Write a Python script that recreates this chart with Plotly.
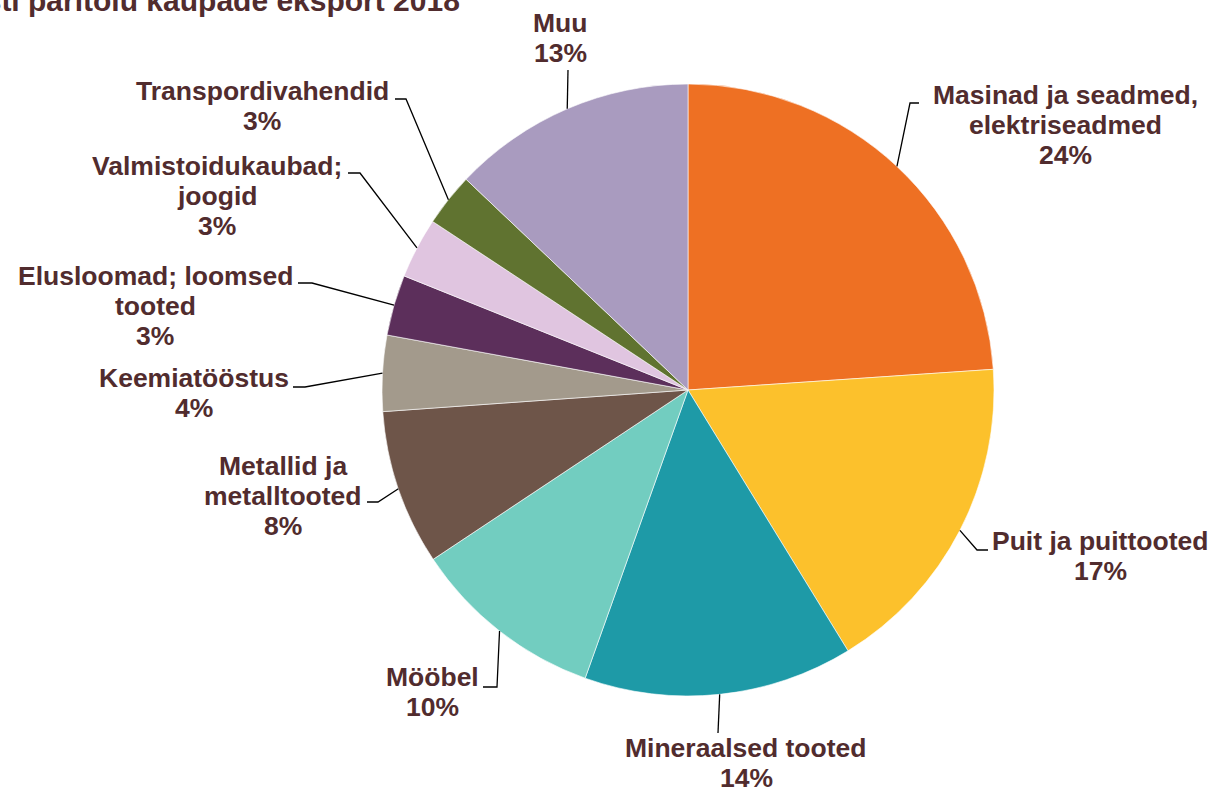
import plotly.graph_objects as go
import numpy as np

# data (shares, %)
labels = ['Masinad ja seadmed, elektriseadmed', 'Puit ja puittooted', 'Mineraalsed tooted',
          'Mööbel', 'Metallid ja metalltooted', 'Keemiatööstus', 'Elusloomad; loomsed tooted',
          'Valmistoidukaubad; joogid', 'Transpordivahendid', 'Muu']
label_lines = [['Masinad ja seadmed,', 'elektriseadmed'], ['Puit ja puittooted'], ['Mineraalsed tooted'],
               ['Mööbel'], ['Metallid ja', 'metalltooted'], ['Keemiatööstus'], ['Elusloomad; loomsed', 'tooted'],
               ['Valmistoidukaubad;', 'joogid'], ['Transpordivahendid'], ['Muu']]
values = [23.9, 17.3, 14.2, 10.2, 8.2, 4.0, 3.2, 3.2, 2.8, 12.9]
colors = ['#EE7023', '#FCC12C', '#1E9AA7', '#72CDC0', '#6E5549',
          '#A39A8C', '#5C2F5B', '#E0C5E0', '#607330', '#A99BBF']
title = 'Eesti päritolu kaupade eksport 2018'

W, H = 1214, 788
cx, cy, r = 688, 390, 306
txt_col = '#512C2E'
fsize = 26.5
line_h = 30

# label placement (px): centre x, middle y of first line; leader elbow points
label_pos = [(1065, 95), (1100, 541), (746, 748), (432, 677), (283, 466),
             (194, 378), (155, 276), (217, 166), (262, 91), (560, 23)]
elbows = [[(910, 103), (919, 103)], [(977, 550), (988, 550)], [(718, 733)],
          [(497, 687), (483, 687)], [(378, 502), (367, 502)], [(305, 387), (293, 387)],
          [(312, 283), (298, 283)], [(360, 173), (348, 173)], [(406, 99), (395, 99)],
          [(568, 70)]]


def px(x):
    return x / W


def py(y):
    return 1 - y / H


fig = go.Figure(go.Pie(
    labels=labels, values=values, sort=False, direction='clockwise', rotation=0,
    marker=dict(colors=colors, line=dict(color='white', width=0.6)),
    textinfo='none', hoverinfo='label+percent', showlegend=False,
    domain=dict(x=[px(cx - r), px(cx + r)], y=[py(cy + r), py(cy - r)]),
))

total = sum(values)
frac = np.cumsum([0] + values) / total
annotations = []
shapes = []
for i, lines in enumerate(label_lines):
    mid = (frac[i] + frac[i + 1]) / 2 * 2 * np.pi
    ex, ey = cx + r * np.sin(mid), cy - r * np.cos(mid)
    pts = [(ex, ey)] + elbows[i]
    path = 'M ' + ' L '.join(f'{px(a):.5f},{py(b):.5f}' for a, b in pts)
    shapes.append(dict(type='path', path=path, xref='paper', yref='paper',
                       line=dict(color='black', width=1.3)))
    pct = f'{round(values[i] / total * 100)}%'
    lx, ly = label_pos[i]
    for j, t in enumerate(lines + [pct]):
        annotations.append(dict(text='<b>' + t + '</b>', x=px(lx), y=py(ly + j * line_h),
                                xref='paper', yref='paper',
                                xanchor='center', yanchor='middle', showarrow=False,
                                font=dict(family='Liberation Sans, Arial', size=fsize, color=txt_col)))

# title, partly cut off at the top-left as in the original
annotations.append(dict(text='<b>' + title + '</b>', x=px(462), y=py(0), xref='paper', yref='paper',
                        xanchor='right', yanchor='middle', showarrow=False,
                        font=dict(family='Liberation Sans, Arial', size=30, color=txt_col)))

fig.update_layout(width=W, height=H, margin=dict(l=0, r=0, t=0, b=0),
                  paper_bgcolor='white', plot_bgcolor='white',
                  annotations=annotations, shapes=shapes)

fig.write_html('out.html', config={'displayModeBar': False},
               post_script="document.body.style.margin='0';")
